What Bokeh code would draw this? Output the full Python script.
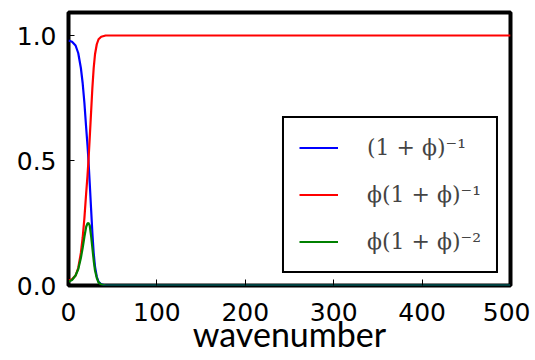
from bokeh.plotting import figure
from bokeh.models import Range1d, FixedTicker, Legend, LegendItem, NumeralTickFormatter
from bokeh.embed import file_html
from bokeh.resources import INLINE

# Data
wavenumber = [0, 4, 8, 11, 14, 16, 18, 20, 21.5, 22.6, 24, 25.5, 27, 28.5, 30, 32, 34, 37, 42, 60, 500]
inv_one_plus_phi = [0.98, 0.975, 0.96, 0.93, 0.87, 0.81, 0.73, 0.63, 0.56, 0.50, 0.41, 0.31, 0.21,
                    0.13, 0.075, 0.035, 0.015, 0.005, 0.0, 0.0, 0.0]
phi_inv_one_plus_phi = [0.02, 0.025, 0.04, 0.07, 0.13, 0.19, 0.27, 0.37, 0.44, 0.50, 0.59, 0.69, 0.79,
                        0.87, 0.925, 0.965, 0.985, 0.995, 1.0, 1.0, 1.0]
phi_inv_sq = [0.015, 0.022, 0.04, 0.065, 0.11, 0.15, 0.195, 0.235, 0.248, 0.25, 0.24, 0.20, 0.15,
              0.10, 0.06, 0.03, 0.012, 0.004, 0.0, 0.0, 0.0]
labels = ["(1 + ϕ)⁻¹", "ϕ(1 + ϕ)⁻¹", "ϕ(1 + ϕ)⁻²"]
colors = ["#0000ff", "#ff0000", "#008000"]
x_ticks = [0, 100, 200, 300, 400, 500]
y_ticks = [0.0, 0.5, 1.0]
x_title = "wavenumber"

p = figure(frame_width=442, frame_height=273, output_backend="svg", toolbar_location=None,
           x_range=Range1d(0, 500), y_range=Range1d(0, 1.092),
           min_border_left=68, min_border_top=12, min_border_right=20, min_border_bottom=0)
p.background_fill_color = "white"
p.border_fill_color = "white"
p.grid.visible = False
p.outline_line_color = "black"
p.outline_line_width = 4
p.outline_line_alpha = 1.0

renderers = []
for ys, c in zip([inv_one_plus_phi, phi_inv_one_plus_phi, phi_inv_sq], colors):
    r = p.line(wavenumber, ys, line_color=c, line_width=2.2)
    renderers.append(r)

for ax in (p.xaxis[0], p.yaxis[0]):
    ax.axis_line_color = None
    ax.major_tick_in = 6
    ax.major_tick_out = 0
    ax.major_tick_line_color = "black"
    ax.major_tick_line_width = 1
    ax.minor_tick_line_color = None
    ax.major_label_text_font = "DejaVu Sans"
    ax.major_label_text_font_size = "25px"
    ax.major_label_text_color = "black"

p.xaxis.ticker = FixedTicker(ticks=x_ticks)
p.yaxis.ticker = FixedTicker(ticks=y_ticks)
p.yaxis.formatter = NumeralTickFormatter(format="0.0")
p.xaxis.major_label_standoff = 17
p.yaxis.major_label_standoff = 12

p.xaxis.axis_label = x_title
p.xaxis.axis_label_text_font = "Lato"
p.xaxis.axis_label_text_font_size = "34px"
p.xaxis.axis_label_text_font_style = "normal"
p.xaxis.axis_label_text_color = "black"
p.xaxis.axis_label_standoff = -11

legend = Legend(items=[LegendItem(label=l, renderers=[r]) for l, r in zip(labels, renderers)],
                location="bottom_right", margin=12, padding=15, spacing=18,
                glyph_width=39, glyph_height=29, label_height=29, label_standoff=29,
                label_text_font="DejaVu Serif", label_text_font_size="22px",
                border_line_color="black", border_line_width=2, border_line_alpha=1.0,
                background_fill_color="white", background_fill_alpha=1.0)
p.add_layout(legend, "center")

open("out.html", "w").write(file_html(p, INLINE))
